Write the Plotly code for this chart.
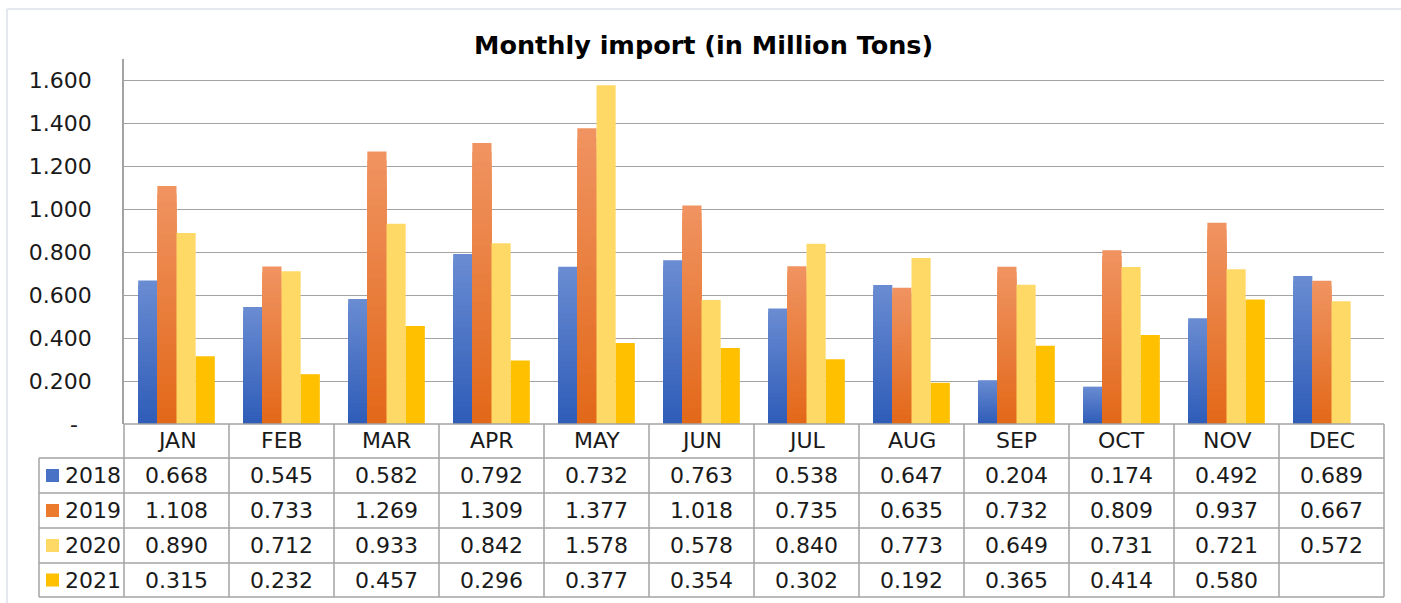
import plotly.graph_objects as go

# ---------------- data ----------------
months = ["JAN", "FEB", "MAR", "APR", "MAY", "JUN", "JUL", "AUG", "SEP", "OCT", "NOV", "DEC"]
years = ["2018", "2019", "2020", "2021"]
v2018 = [0.668, 0.545, 0.582, 0.792, 0.732, 0.763, 0.538, 0.647, 0.204, 0.174, 0.492, 0.689]
v2019 = [1.108, 0.733, 1.269, 1.309, 1.377, 1.018, 0.735, 0.635, 0.732, 0.809, 0.937, 0.667]
v2020 = [0.890, 0.712, 0.933, 0.842, 1.578, 0.578, 0.840, 0.773, 0.649, 0.731, 0.721, 0.572]
v2021 = [0.315, 0.232, 0.457, 0.296, 0.377, 0.354, 0.302, 0.192, 0.365, 0.414, 0.580, None]
y_tickvals = [0, 0.2, 0.4, 0.6, 0.8, 1.0, 1.2, 1.4, 1.6]
y_ticktext = ["-\u00a0\u00a0", "0.200", "0.400", "0.600", "0.800", "1.000", "1.200", "1.400", "1.600"]
title_text = "Monthly import (in Million Tons)"

series = [v2018, v2019, v2020, v2021]

# ---------------- styles ----------------
W, H = 1401, 603
L, R, T, B = 124, 1384, 59, 424
FONT = "DejaVu Sans"
FS = 22
TXT = "#1a1a1a"
LINE = "#a3a3a3"
# (bottom colour, top colour) per series
grad = [((46, 92, 184), (106, 140, 210)),
        ((226, 104, 24), (240, 148, 98)),
        ((255, 217, 102), (255, 217, 102)),
        ((255, 192, 0), (255, 192, 0))]
key_cols = ["rgb(72,114,198)", "rgb(236,122,44)", "rgb(255,217,102)", "rgb(255,192,0)"]
NSEG = 30


def px_x(px):
    return (px - L) / (R - L)


def px_y(py):
    return (B - py) / (B - T)


def mix(c0, c1, f):
    return "rgb(%d,%d,%d)" % tuple(round(a + (b - a) * f) for a, b in zip(c0, c1))


fig = go.Figure()

for si, vals in enumerate(series):
    c0, c1 = grad[si]
    if c0 == c1:
        fig.add_trace(go.Bar(x=months, y=vals, name=years[si], offsetgroup=years[si],
                             marker=dict(color=mix(c0, c1, 0), line=dict(width=0))))
    else:
        # nested bars from the axis: tallest (lightest) first, shorter darker ones on top
        for k in range(NSEG - 1, -1, -1):
            f = (k + 0.5) / NSEG
            fig.add_trace(go.Bar(
                x=months,
                y=[None if v is None else v * (k + 1) / NSEG for v in vals],
                name=years[si], offsetgroup=years[si],
                marker=dict(color=mix(c0, c1, f), line=dict(width=0)),
                showlegend=False))

shapes = []
annos = []

# outer chart border (top and left)
shapes.append(dict(type="line", xref="paper", yref="paper", x0=px_x(7), x1=px_x(W + 5),
                   y0=px_y(9), y1=px_y(9), line=dict(color="#dde2ea", width=1.5)))
shapes.append(dict(type="line", xref="paper", yref="paper", x0=px_x(7), x1=px_x(7),
                   y0=px_y(9), y1=px_y(H + 5), line=dict(color="#dde2ea", width=1.5)))

# data table
rows_y = [424, 458, 493, 528, 563, 597]
leg_left = 39
ncol = len(months)
shapes.append(dict(type="line", xref="paper", yref="paper", x0=0, x1=1,
                   y0=px_y(rows_y[0]), y1=px_y(rows_y[0]), line=dict(color=LINE, width=1.5)))
for ry in rows_y[1:]:
    shapes.append(dict(type="line", xref="paper", yref="paper", x0=px_x(leg_left), x1=1,
                       y0=px_y(ry), y1=px_y(ry), line=dict(color=LINE, width=1.5)))
for i in range(ncol + 1):
    shapes.append(dict(type="line", xref="paper", yref="paper", x0=i / ncol, x1=i / ncol,
                       y0=px_y(rows_y[0]), y1=px_y(rows_y[-1]), line=dict(color=LINE, width=1.5)))
shapes.append(dict(type="line", xref="paper", yref="paper", x0=px_x(leg_left), x1=px_x(leg_left),
                   y0=px_y(rows_y[1]), y1=px_y(rows_y[-1]), line=dict(color=LINE, width=1.5)))

for i, m in enumerate(months):
    annos.append(dict(text=m, xref="paper", yref="paper", x=(i + 0.5) / ncol,
                      y=px_y((rows_y[0] + rows_y[1]) / 2), xanchor="center", yanchor="middle",
                      showarrow=False, font=dict(family=FONT, size=FS, color=TXT)))

for si, vals in enumerate(series):
    yc = (rows_y[si + 1] + rows_y[si + 2]) / 2
    shapes.append(dict(type="rect", xref="paper", yref="paper", x0=px_x(46), x1=px_x(59),
                       y0=px_y(yc - 6.5), y1=px_y(yc + 6.5), line=dict(width=0),
                       fillcolor=key_cols[si]))
    annos.append(dict(text=years[si], xref="paper", yref="paper", x=px_x(63), y=px_y(yc),
                      xanchor="left", yanchor="middle", showarrow=False,
                      font=dict(family=FONT, size=FS, color=TXT)))
    for i, v in enumerate(vals):
        if v is None:
            continue
        annos.append(dict(text="%.3f" % v, xref="paper", yref="paper", x=(i + 0.5) / ncol,
                          y=px_y(yc), xanchor="center", yanchor="middle", showarrow=False,
                          font=dict(family=FONT, size=FS, color=TXT)))

annos.append(dict(text="<b>" + title_text + "</b>", xref="paper", yref="paper",
                  x=px_x(703), y=px_y(45), xanchor="center", yanchor="middle",
                  showarrow=False, font=dict(family=FONT, size=25.5, color="#000000")))

fig.update_layout(
    width=W, height=H,
    margin=dict(l=L, r=W - R, t=T, b=H - B),
    paper_bgcolor="white", plot_bgcolor="white",
    barmode="group", bargap=0.27, bargroupgap=0,
    showlegend=False, hovermode=False,
    shapes=shapes, annotations=annos,
    xaxis=dict(type="category", categoryorder="array", categoryarray=months,
               range=[-0.5, ncol - 0.5], showticklabels=False, showgrid=False,
               zeroline=False, showline=False, ticks=""),
    yaxis=dict(range=[0, 1.7], tickvals=y_tickvals, ticktext=y_ticktext,
               showgrid=True, gridcolor=LINE, gridwidth=1.3, zeroline=False,
               showline=True, linecolor=LINE, linewidth=1.5, ticks="",
               ticklabelstandoff=26,
               tickfont=dict(family=FONT, size=FS, color=TXT)),
)

fig.write_html("out.html", config={"displayModeBar": False},
               post_script="document.body.style.margin='0px';")
